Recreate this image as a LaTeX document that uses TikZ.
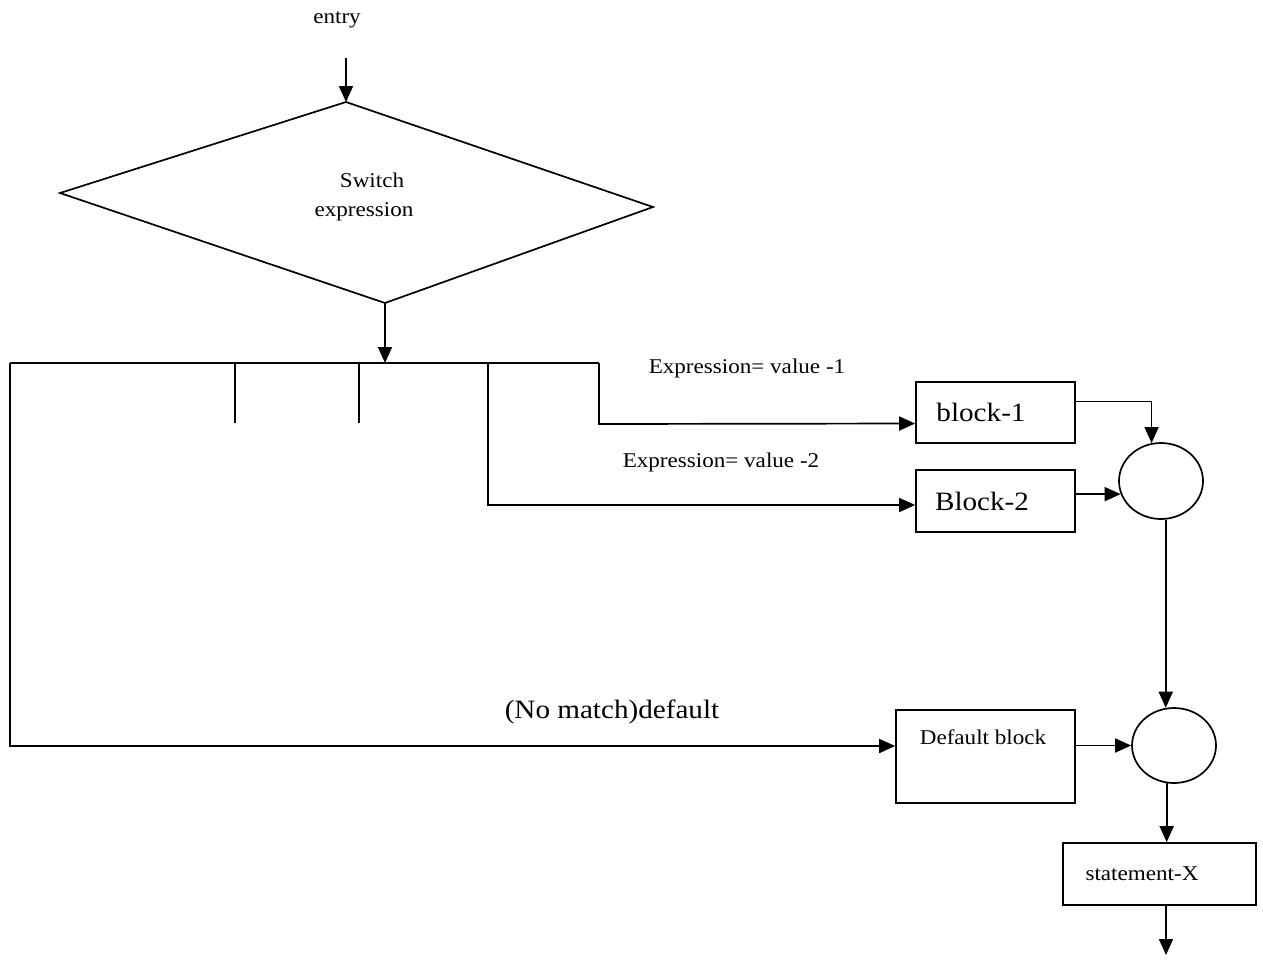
\documentclass[tikz,border=0pt]{standalone}
\usepackage{fontspec}
\setmainfont[FakeStretch=1.1]{Liberation Serif}
\usetikzlibrary{arrows.meta,shapes.geometric}
\begin{document}
\begin{tikzpicture}[x=1pt,y=-1pt,line width=1.7pt,
  tip/.style={-{Triangle[length=16pt,width=14pt]}},
  box/.style={draw,rectangle,inner sep=0pt},
  joint/.style={draw,ellipse,inner sep=0pt},
  small/.style={font=\fontsize{21}{25}\selectfont,inner sep=0pt},
  large/.style={font=\fontsize{26.5}{31}\selectfont,inner sep=0pt}]
\useasboundingbox (0,0) rectangle (1263,959);

% decision diamond
\coordinate (dl) at (60,193);
\coordinate (dt) at (346,102);
\coordinate (dr) at (653,207);
\coordinate (db) at (385,303);
\draw (dl) -- (dt) -- (dr) -- (db) -- cycle;
\node[small] (sw1) at (372,180) {Switch};
\node[small] (sw2) at (364,212) {expression};

% entry
\node[small] (entry) at (337,20) {entry};
\coordinate (e0) at (346,58);
\draw[tip] (e0) -- (dt);

% case bus
\coordinate (busL) at (10,363);
\coordinate (busM) at (385,363);
\coordinate (busR) at (599,363);
\draw[tip] (db) -- (busM);
\draw (busL) -- (busR);
\draw (235,363) -- (235,423);
\draw (359,363) -- (359,423);

% blocks
\node[box,minimum width=159pt,minimum height=61pt] (b1) at (995.5,412.5) {};
\node[large] (b1t) at (981,412) {block-1};
\node[box,minimum width=159pt,minimum height=62pt] (b2) at (995.5,501) {};
\node[large] (b2t) at (982,501) {Block-2};
\node[box,minimum width=179pt,minimum height=93pt] (def) at (985.5,756.5) {};
\node[small] (deft) at (983,737) {Default block};
\node[box,minimum width=193pt,minimum height=62pt] (stmt) at (1159.5,874) {};
\node[small] (stmtt) at (1142,874) {statement-X};

% junctions
\node[joint,minimum width=84pt,minimum height=76pt] (c1) at (1161,481) {};
\node[joint,minimum width=84pt,minimum height=75pt] (c2) at (1174,745.5) {};

% case branches
\draw[tip] (busR) -- (599,424) -- ([yshift=-11pt]b1.west);
\draw[tip] (488,363) |- ([yshift=-4pt]b2.west);
\draw[tip] (busL) |- ([yshift=10.5pt]def.west);
\node[small] (v1) at (747,368) {Expression= value -1};
\node[small] (v2) at (721,462) {Expression= value -2};
\node[large] (nm) at (612,712) {(No match)default};

% merging
\draw[tip] ([yshift=11pt]b1.east) -| (c1.104);
\draw[tip] (b2.east |- c1.198) -- (c1.198);
\draw[tip] (c1.277) -- (c1.277 |- c2.101);
\draw[tip] (def.east |- c2.west) -- (c2.west);
\draw[tip] (c2.259) -- (c2.259 |- stmt.north);
\coordinate (exit) at (1166,955);
\draw[tip] (exit |- stmt.south) -- (exit);
\end{tikzpicture}
\end{document}
